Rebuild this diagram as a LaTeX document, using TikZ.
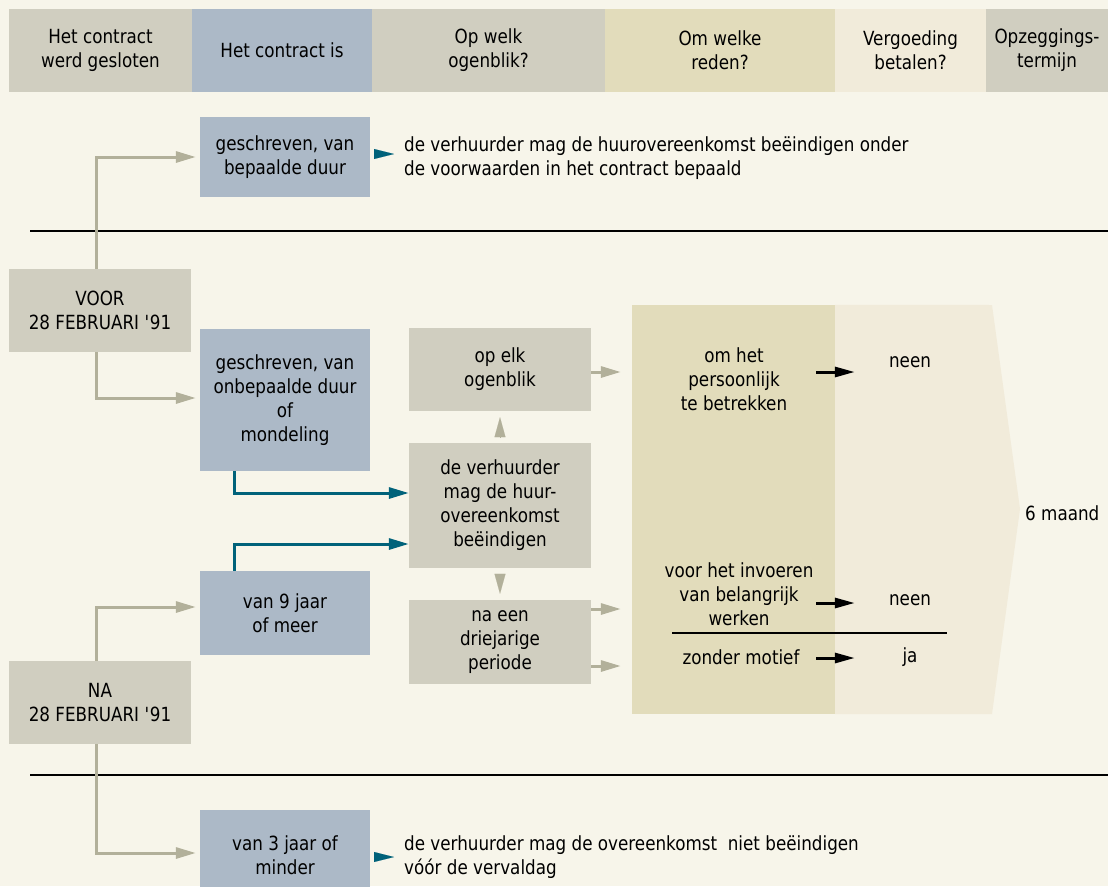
\documentclass[tikz,border=0pt]{standalone}
\usepackage{fontspec}
\setmainfont{DejaVu Sans}[FakeStretch=0.86]
\usetikzlibrary{arrows.meta}
\definecolor{cbg}{RGB}{247,245,234}
\definecolor{cgray}{RGB}{208,206,192}
\definecolor{cblue}{RGB}{172,185,199}
\definecolor{ckhaki}{RGB}{226,220,187}
\definecolor{clight}{RGB}{241,235,218}
\definecolor{cline}{RGB}{178,176,154}
\definecolor{cteal}{RGB}{0,98,122}

\begin{document}
\begin{tikzpicture}[x=1pt, y=-1pt,
      every node/.style={font=\fontsize{19.5}{24}\selectfont, align=center, inner sep=0pt},
      hdr/.style={minimum height=83pt},
      bluebox/.style={fill=cblue, minimum width=170pt},
      graybox/.style={fill=cgray, minimum width=182pt},
      answer/.style={minimum width=110pt},
      grayarrow/.style={-{Triangle[length=20pt, width=11pt]}, line width=3pt, cline},
      tealarrow/.style={-{Triangle[length=20pt, width=11pt]}, line width=3pt, cteal},
      blackarrow/.style={-{Triangle[length=20pt, width=10pt]}, line width=3pt, black},
      grayhead/.style={-{Triangle[length=20pt, width=11pt]}, line width=0.1pt, cline},
      tealhead/.style={-{Triangle[length=20pt, width=10pt]}, line width=0.1pt, cteal},
      sepline/.style={line width=2.6pt, black}
    ]
    \useasboundingbox (0,0) rectangle (1108,886);
    \fill[cbg] (0,0) rectangle (1108,886);

    % header row
    \node[hdr, fill=cgray, minimum width=183pt] (hgesl) at (100.5,50.5) {Het contract\\werd gesloten};
    \node[hdr, fill=cblue, minimum width=180pt] (hcontr) at (282,50.5) {Het contract is};
    \node[hdr, fill=cgray, minimum width=233pt] (hogen) at (488.5,50.5) {Op welk\\ogenblik?};
    \node[hdr, fill=ckhaki, minimum width=230pt] (hreden) at (720,50.5) {Om welke\\reden?};
    \node[hdr, fill=clight, minimum width=151pt] (hverg) at (910.5,50.5) {Vergoeding\\betalen?};
    \node[hdr, fill=cgray, minimum width=122pt] (hterm) at (1047,50.5) {Opzeggings-\\termijn};

    % separators
    \draw[sepline] (30,231) -- (1108,231);
    \draw[sepline] (30,775) -- (1108,775);

    % reasons panel and notice arrow
    \node[fill=ckhaki, minimum width=203pt, minimum height=409pt] (rsn) at (733.5,509.5) {};
    \fill[clight] (rsn.north east) -- (992,305) -- (1020,509) -- (992,714) -- (rsn.south east) -- cycle;

    % left column
    \node[graybox] (voor) at (100,310.5) [minimum height=83pt] {VOOR\\28 FEBRUARI \textquotesingle91};
    \node[graybox] (na) at (100,702.5) [minimum height=83pt] {NA\\28 FEBRUARI \textquotesingle91};

    % contract types
    \node[bluebox, minimum height=80pt] (bepaald) at (285,157) {geschreven, van\\bepaalde duur};
    \node[bluebox, minimum height=142pt] (onbepaald) at (285,400) {geschreven, van\\onbepaalde duur\\of\\mondeling};
    \node[bluebox, minimum height=84pt] (negen) at (285,613) {van 9 jaar\\of meer};
    \node[bluebox, minimum height=90pt] (drie) at (285,855) {van 3 jaar of\\minder};

    % moments
    \node[graybox, minimum height=83pt] (elk) at (500,369.5) {op elk\\ogenblik};
    \node[graybox, minimum height=125pt] (beeind) at (500,505.5) {de verhuurder\\mag de huur-\\overeenkomst\\beëindigen};
    \node[graybox, minimum height=84pt] (drieper) at (500,642) {na een\\driejarige\\periode};

    % side texts
    \node[anchor=west, align=left] (tbepaald) at (404,158)
      {de verhuurder mag de huurovereenkomst beëindigen onder\\de voorwaarden in het contract bepaald};
    \node[anchor=west, align=left] (tdrie) at (404,857)
      {de verhuurder mag de overeenkomst\ \ niet beëindigen\\vóór de vervaldag};

    % reasons and answers
    \node (rpers) at (734,379) {om het\\persoonlijk\\te betrekken};
    \node (rwerk) at (739,594) {voor het invoeren\\van belangrijk\\werken};
    \node (rmotief) at (741,657) {zonder motief};
    \node[answer] (apers) at (910,362) {neen};
    \node[answer] (awerk) at (910,600) {neen};
    \node[answer] (amotief) at (910,657) {ja};
    \node[anchor=west] (termijn) at (1025,513) {6 maand};
    \draw[line width=2.5pt] (672,633) -- (947,633);

    \coordinate (spers) at (816,372);
    \coordinate (swerk) at (816,603);
    \coordinate (smotief) at (816,658);
    \draw[blackarrow] (spers) -- (spers -| apers.west);
    \draw[blackarrow] (swerk) -- (swerk -| awerk.west);
    \draw[blackarrow] (smotief) -- (smotief -| amotief.west);

    % gray connectors
    \draw[grayarrow, shorten >=4pt] ([xshift=-4pt]voor.north) |- (bepaald.west);
    \draw[grayarrow, shorten >=4pt] ([xshift=-4pt]voor.south) |- ([yshift=2pt]onbepaald.west);
    \draw[grayarrow, shorten >=4pt] ([xshift=-4pt]na.north) |- ([yshift=6pt]negen.west);
    \draw[grayarrow, shorten >=4pt] ([xshift=-4pt]na.south) |- ([yshift=2pt]drie.west);
    \draw[grayarrow, shorten >=11pt] ([yshift=-2.5pt]elk.east) -- ([yshift=-2.5pt]elk.east -| rsn.west);
    \draw[grayarrow, shorten >=11pt] ([yshift=33pt]drieper.east) -- ([yshift=33pt]drieper.east -| rsn.west);
    \draw[grayarrow, shorten >=11pt] ([yshift=-24pt]drieper.east) -- ([yshift=-24pt]drieper.east -| rsn.west);
    \draw[grayhead, shorten <=6pt, shorten >=6pt] (beeind.north) -- (elk.south);
    \draw[grayhead, shorten <=6pt, shorten >=6pt] (beeind.south) -- (drieper.north);

    % teal connectors
    \draw[tealarrow] ([xshift=-51pt]onbepaald.south) |- ([yshift=12.5pt]beeind.west);
    \draw[tealarrow] ([xshift=-51pt]negen.north) |- ([yshift=-38.5pt]beeind.west);
    \draw[tealhead, shorten <=4pt, shorten >=10pt] (bepaald.east |- 0,154) -- (tbepaald.west |- 0,154);
    \draw[tealhead, shorten <=4pt, shorten >=10pt] (drie.east |- tdrie.west) -- (tdrie.west);
  \end{tikzpicture}
\end{document}
